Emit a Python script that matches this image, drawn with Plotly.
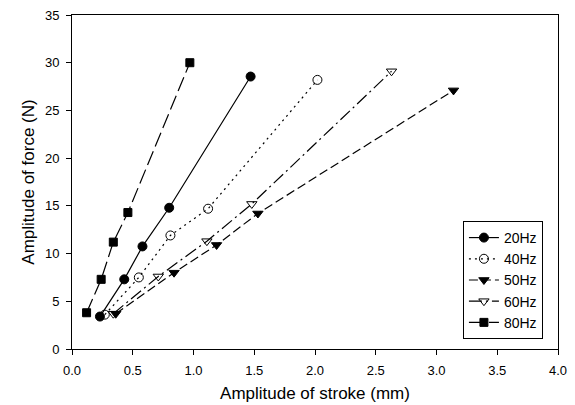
import plotly.graph_objects as go

series_names = ["20Hz", "40Hz", "50Hz", "60Hz", "80Hz"]
stroke_20 = [0.23, 0.43, 0.58, 0.80, 1.47]
force_20 = [3.4, 7.3, 10.75, 14.8, 28.55]
stroke_40 = [0.27, 0.55, 0.81, 1.12, 2.02]
force_40 = [3.6, 7.5, 11.9, 14.7, 28.2]
stroke_50 = [0.36, 0.84, 1.19, 1.53, 3.14]
force_50 = [3.7, 8.0, 10.9, 14.2, 27.1]
stroke_60 = [0.34, 0.71, 1.11, 1.48, 2.63]
force_60 = [3.7, 7.6, 11.3, 15.2, 29.1]
stroke_80 = [0.12, 0.24, 0.34, 0.46, 0.97]
force_80 = [3.8, 7.3, 11.2, 14.3, 30.0]

xs = [stroke_20, stroke_40, stroke_50, stroke_60, stroke_80]
ys = [force_20, force_40, force_50, force_60, force_80]
symbols = ["circle", "circle-open", "triangle-down", "triangle-down-open", "square"]
dashes = ["solid", "2px,4px", "9px,4px", "13px,4px,2px,4px", "15px,5px"]
sizes = [9, 9, 9, 9, 8]

fig = go.Figure()
for name, x, y, sym, d, s in zip(series_names, xs, ys, symbols, dashes, sizes):
    fig.add_trace(go.Scatter(
        x=x, y=y, name=name, mode="lines+markers",
        line=dict(color="black", width=1.2, dash=d),
        marker=dict(symbol=sym, size=s, color="black",
                    line=dict(color="black", width=1)),
    ))

fig.update_layout(
    width=575, height=405,
    margin=dict(l=72, r=17, t=15, b=56),
    paper_bgcolor="white", plot_bgcolor="white",
    font=dict(family="Liberation Sans, Arial, sans-serif", color="black", size=13),
    legend=dict(
        x=0.969, y=0.03, xanchor="right", yanchor="bottom",
        bordercolor="black", borderwidth=1, bgcolor="white",
        font=dict(size=14), tracegroupgap=0,
    ),
    xaxis=dict(
        range=[0, 4], dtick=0.5, tickformat=".1f", automargin=False,
        showgrid=False, zeroline=False,
        showline=True, linecolor="black", linewidth=1, mirror=True,
        ticks="outside", ticklen=5, tickcolor="black", ticklabelstandoff=4,
        title=dict(text="Amplitude of stroke (mm)", font=dict(size=17), standoff=10),
    ),
    yaxis=dict(
        range=[0, 35], dtick=5, automargin=False,
        showgrid=False, zeroline=False,
        showline=True, linecolor="black", linewidth=1, mirror=True,
        ticks="outside", ticklen=5, tickcolor="black", ticklabelstandoff=4,
        title=dict(text="Amplitude of force (N)", font=dict(size=17), standoff=5),
    ),
)

fig.write_html("out.html")
